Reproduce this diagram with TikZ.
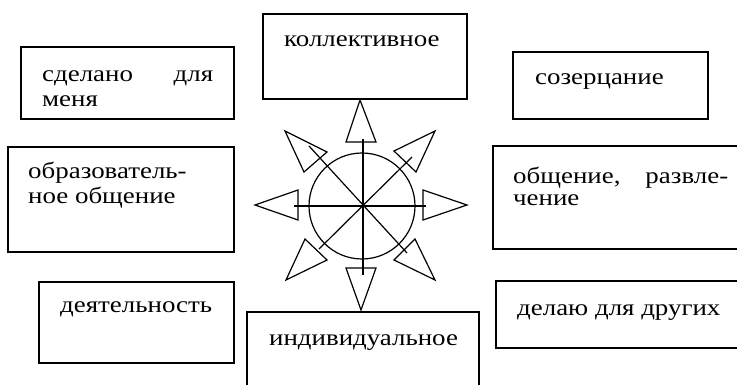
\documentclass[tikz,border=0pt]{standalone}
\usepackage{fontspec}
\setmainfont{Liberation Serif}
\newfontfamily\lbfont[FakeStretch=1.17]{Liberation Serif}
\begin{document}
\begin{tikzpicture}[x=1pt,y=-1pt,
  box/.style={draw=black,line width=1.3pt},
  lbl/.style={anchor=base west,inner sep=0pt,font=\lbfont\fontsize{23}{25}\selectfont},
  star/.style={draw=black,line width=1.2pt,line join=miter},
  ray/.style={draw=black,line width=1.2pt}]
\useasboundingbox (0,0) rectangle (737,385);
% boxes
\draw[box] (21,47) rectangle (234,119);
\draw[box] (8,147) rectangle (234,252);
\draw[box] (39,282) rectangle (234,363);
\draw[box] (263,14) rectangle (467,99);
\draw[box] (247,312) rectangle (479,390);
\draw[box] (513,52) rectangle (708,119);
\draw[box] (493,146) rectangle (740,249);
\draw[box] (496,281) rectangle (740,348);
% texts
\node[lbl] (t1a) at (42,82) {\hbox to 171pt{сделано\hfill для}};
\node[lbl] (t1b) at (42,107) {меня};
\node[lbl] (t2a) at (28,179) {образователь-};
\node[lbl] (t2b) at (28,204) {ное общение};
\node[lbl] (t3) at (60,312) {деятельность};
\node[lbl] (t4) at (284,47) {коллективное};
\node[lbl] (t5) at (269,345) {индивидуальное};
\node[lbl] (t6) at (535,85) {созерцание};
\node[lbl] (t7a) at (513,184) {\hbox to 215pt{общение,\hfill развле-}};
\node[lbl] (t7b) at (513,206) {чение};
\node[lbl] (t8) at (517,315) {делаю для других};
% circle and rays
\coordinate (c) at (362,206);
\draw[ray] (c) circle (53);
\draw[ray] (294,206) -- (426,206);
\draw[ray] (363,139) -- (363,275);
\draw[ray] (309,146) -- (407,253);
\draw[ray] (412,157) -- (319,249);
% arrowheads
\draw[star] (360,100) -- (376,142) -- (346,142) -- cycle;
\draw[star] (361,310) -- (376,268) -- (346,268) -- cycle;
\draw[star] (255,205) -- (298,190) -- (298,220) -- cycle;
\draw[star] (467,205) -- (423,190) -- (423,220) -- cycle;
\draw[star] (285,131) -- (304,172) -- (327,152) -- cycle;
\draw[star] (435,131) -- (394,151) -- (416,172) -- cycle;
\draw[star] (286,280) -- (305,239) -- (327,260) -- cycle;
\draw[star] (435,280) -- (394,260) -- (415,239) -- cycle;
\end{tikzpicture}
\end{document}
